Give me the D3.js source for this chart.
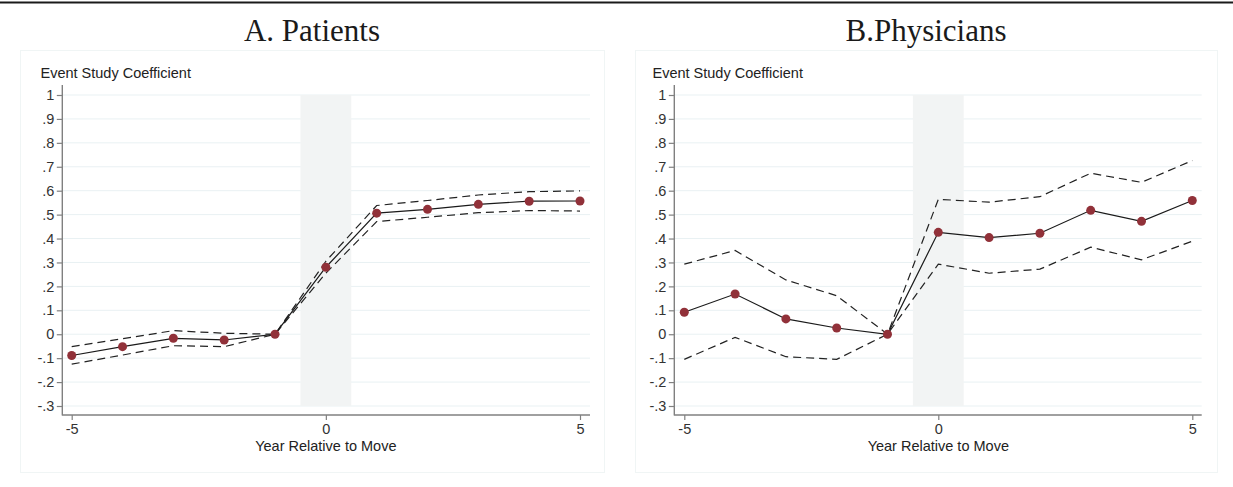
<!DOCTYPE html>
<html>
<head>
<meta charset="utf-8">
<script src="https://cdn.jsdelivr.net/npm/d3@7"></script>
<style>
  html, body { margin: 0; padding: 0; background: #ffffff; }
  svg { display: block; }
  text { font-family: "Liberation Sans", Arial, sans-serif; fill: #333333; }
</style>
</head>
<body>
<svg id="chart" width="1233" height="487"></svg>
<script>
// Event-time grid shared by both panels
const years = [-5, -4, -3, -2, -1, 0, 1, 2, 3, 4, 5];

// Panel A: patients
const patientsCoef  = [-0.089, -0.052, -0.017, -0.024, 0, 0.280, 0.506, 0.522, 0.543, 0.556, 0.557];
const patientsUpper = [-0.052, -0.019,  0.015,  0.004, 0, 0.305, 0.538, 0.559, 0.582, 0.596, 0.599];
const patientsLower = [-0.125, -0.087, -0.048, -0.052, 0, 0.255, 0.471, 0.489, 0.508, 0.517, 0.515];

// Panel B: physicians
const physCoef  = [0.092, 0.168, 0.064, 0.026, 0, 0.426, 0.404, 0.422, 0.518, 0.472, 0.559];
const physUpper = [0.293, 0.350, 0.227, 0.161, 0, 0.564, 0.552, 0.575, 0.673, 0.635, 0.726];
const physLower = [-0.105, -0.013, -0.094, -0.105, 0, 0.293, 0.255, 0.272, 0.364, 0.311, 0.389];

// Axis ticks
const yTicks = [1, 0.9, 0.8, 0.7, 0.6, 0.5, 0.4, 0.3, 0.2, 0.1, 0, -0.1, -0.2, -0.3];
const xTicks = [-5, 0, 5];

const titles = ["A. Patients", "B.Physicians"];

const svg = d3.select("#chart");

// rule across the top of the figure
svg.append("line")
  .attr("x1", 0).attr("x2", 1233).attr("y1", 2.5).attr("y2", 2.5)
  .attr("stroke", "#1a1a1a").attr("stroke-width", 2);

// Stata-style labels: plain hyphen, no leading zero
const fmtY = v => {
  if (Math.abs(v) < 1e-9) return "0";
  if (Math.abs(v - 1) < 1e-9) return "1";
  const s = Math.abs(v).toFixed(1).replace(/^0/, "");
  return (v < 0 ? "-" : "") + s;
};
const fmtX = v => (v < 0 ? "-" : "") + Math.abs(v);

function drawPanel(cfg) {
  const g = svg.append("g");
  // faint panel frame
  g.append("rect")
    .attr("x", cfg.frameX + 0.5).attr("y", 50.5)
    .attr("width", cfg.frameW).attr("height", 422)
    .attr("fill", "none").attr("stroke", "#f0f5f5").attr("stroke-width", 1);

  g.append("text")
    .attr("x", cfg.frameX + cfg.frameW / 2).attr("y", 41)
    .attr("text-anchor", "middle")
    .style("font-family", "'Liberation Serif', 'Times New Roman', serif")
    .style("font-size", "31px").style("fill", "#1a1a1a")
    .text(cfg.title);

  const x = d3.scaleLinear().domain([-5, 5]).range([cfg.x0, cfg.x1]);
  const y = d3.scaleLinear().domain([-0.3, 1]).range([406, 95]);

  // horizontal grid
  g.append("g").selectAll("line").data(yTicks).join("line")
    .attr("x1", cfg.axisX).attr("x2", cfg.plotRight)
    .attr("y1", d => y(d)).attr("y2", d => y(d))
    .attr("stroke", "#e9f1f3").attr("stroke-width", 1);

  // shaded move year
  g.append("rect")
    .attr("x", x(-0.5)).attr("y", y(1))
    .attr("width", x(0.5) - x(-0.5)).attr("height", y(-0.3) - y(1))
    .attr("fill", "#f2f4f4");

  // y axis
  const yAxis = g.append("g").attr("transform", `translate(${cfg.axisX},0)`)
    .call(d3.axisLeft(y).tickValues(yTicks).tickFormat(fmtY).tickSize(5.5).tickPadding(2.5));
  yAxis.select(".domain").remove();
  yAxis.append("line").attr("x1", 0).attr("x2", 0).attr("y1", 85).attr("y2", 415.5)
    .attr("stroke", "#808080").attr("stroke-width", 1.4);
  yAxis.selectAll(".tick line").attr("stroke", "#808080").attr("stroke-width", 1.2);
  yAxis.selectAll(".tick text").style("font-size", "14.5px").style("fill", "#333")
    .style("font-family", "'Liberation Sans', Arial, sans-serif");

  // x axis
  const xAxis = g.append("g").attr("transform", "translate(0,415)")
    .call(d3.axisBottom(x).tickValues(xTicks).tickFormat(fmtX).tickSize(5).tickPadding(4));
  xAxis.select(".domain").remove();
  xAxis.append("line").attr("x1", cfg.axisX).attr("x2", cfg.plotRight).attr("y1", 0).attr("y2", 0)
    .attr("stroke", "#808080").attr("stroke-width", 1.4);
  xAxis.selectAll(".tick line").attr("stroke", "#808080").attr("stroke-width", 1.2);
  xAxis.selectAll(".tick text").style("font-size", "14.5px").style("fill", "#333")
    .style("font-family", "'Liberation Sans', Arial, sans-serif");

  // axis titles
  g.append("text").attr("x", cfg.yTitleX).attr("y", 78)
    .style("font-size", "14.5px").style("fill", "#222").text("Event Study Coefficient");
  g.append("text").attr("x", x(0)).attr("y", 451).attr("text-anchor", "middle")
    .style("font-size", "14.5px").style("fill", "#222").text("Year Relative to Move");

  const line = vals => d3.line().x((d, i) => x(years[i])).y(d => y(d))(vals);

  [cfg.upper, cfg.lower].forEach(vals => {
    g.append("path").attr("d", line(vals))
      .attr("fill", "none").attr("stroke", "#222").attr("stroke-width", 1.2)
      .attr("stroke-dasharray", "8,5");
  });
  g.append("path").attr("d", line(cfg.coef))
    .attr("fill", "none").attr("stroke", "#1a1a1a").attr("stroke-width", 1.2);

  g.append("g").selectAll("circle").data(cfg.coef).join("circle")
    .attr("cx", (d, i) => x(years[i])).attr("cy", d => y(d)).attr("r", 4.5)
    .attr("fill", "#913139");
}

drawPanel({
  title: titles[0], frameX: 20, frameW: 584, yTitleX: 40.5,
  axisX: 62.3, plotRight: 590, x0: 71.7, x1: 580,
  coef: patientsCoef, upper: patientsUpper, lower: patientsLower
});
drawPanel({
  title: titles[1], frameX: 635, frameW: 582, yTitleX: 652.5,
  axisX: 674.3, plotRight: 1201.7, x0: 684.3, x1: 1192.3,
  coef: physCoef, upper: physUpper, lower: physLower
});
</script>
</body>
</html>
